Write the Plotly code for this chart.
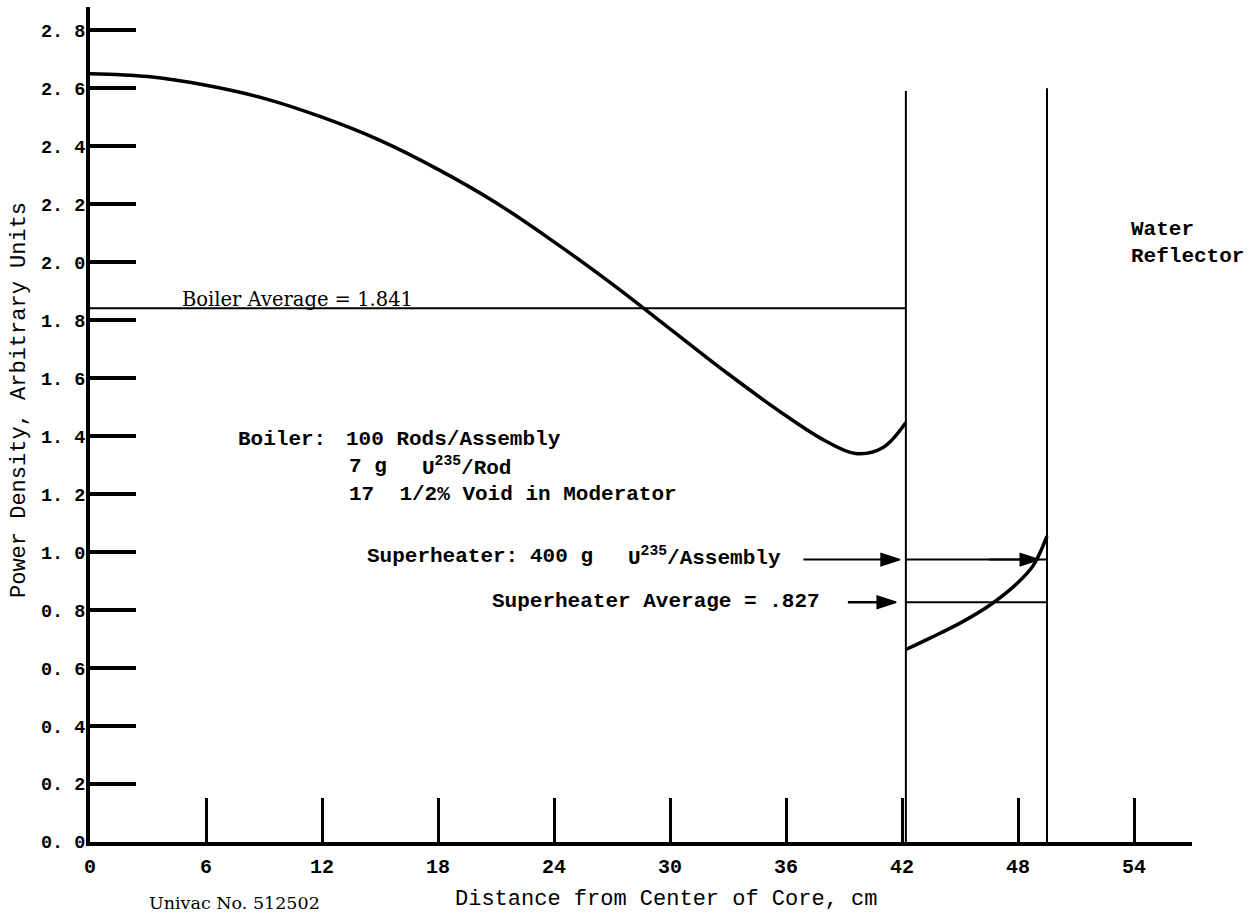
import plotly.graph_objects as go

# ---- data ----
boiler_x = [0, 3, 6, 9, 12, 15, 18, 21, 24, 27, 30, 33, 36, 38, 39.6, 41, 42.2]
boiler_y = [2.65, 2.64, 2.61, 2.565, 2.50, 2.42, 2.32, 2.205, 2.07, 1.925, 1.77, 1.615, 1.47,
            1.385, 1.34, 1.36, 1.447]

super_x = [42.2, 43.5, 45, 46.5, 48, 48.8, 49.5]
super_y = [0.664, 0.705, 0.755, 0.815, 0.895, 0.955, 1.055]

boundaries = [42.2, 49.5]          # boiler / superheater / reflector boundaries (cm)
boundary_top = [2.59, 2.60]
boiler_avg = 1.841
super_avg = 0.827
super_loading_level = 0.974

x_ticks = [0, 6, 12, 18, 24, 30, 36, 42, 48, 54]
y_ticks = [0.0, 0.2, 0.4, 0.6, 0.8, 1.0, 1.2, 1.4, 1.6, 1.8, 2.0, 2.2, 2.4, 2.6, 2.8]
y_tick_text = ["0. 0", "0. 2", "0. 4", "0. 6", "0. 8", "1. 0", "1. 2", "1. 4", "1. 6",
               "1. 8", "2. 0", "2. 2", "2. 4", "2. 6", "2. 8"]

SERIF = "DejaVu Serif"
MONO = "Liberation Mono"

fig = go.Figure()


def line(xs, ys, width=2, **kw):
    fig.add_trace(go.Scatter(x=xs, y=ys, mode="lines", line=dict(color="black", width=width, **kw),
                             showlegend=False, hoverinfo="skip"))


def arrow(xs, ys, width=2, size=20):
    fig.add_trace(go.Scatter(x=xs, y=ys, mode="lines+markers",
                             line=dict(color="black", width=width),
                             marker=dict(symbol="arrow", angleref="previous", size=[0, size],
                                         color="black", opacity=1,
                                         line=dict(width=1.5, color="black")),
                             showlegend=False, hoverinfo="skip"))


line(boiler_x, boiler_y, width=3.5, shape="spline", smoothing=1.0)
line(super_x, super_y, width=3.5, shape="spline", smoothing=1.0)

# vertical boundary lines
for bx, bt in zip(boundaries, boundary_top):
    line([bx, bx], [0, bt], width=2)

# average lines
line([0, boundaries[0]], [boiler_avg, boiler_avg], width=2)
line(boundaries, [super_avg, super_avg], width=2)
line(boundaries, [super_loading_level, super_loading_level], width=2)

# arrows
arrow([36.9, boundaries[0] - 0.3], [super_loading_level, super_loading_level])
arrow([46.5, boundaries[1] - 0.4], [super_loading_level, super_loading_level])
arrow([39.2, boundaries[0] - 0.5], [super_avg, super_avg], width=2.5)

ann = []
body = dict(family=MONO, size=21, color="black", weight="bold")


def text(x, y, s, font, xanchor="left", yanchor="middle", **kw):
    ann.append(dict(x=x, y=y, xref="x", yref="y", xanchor=xanchor, yanchor=yanchor,
                    text=s, showarrow=False, font=font, **kw))


text(4.65, boiler_avg, "Boiler Average = 1.841",
     dict(family=SERIF, size=19.5, color="black"), yanchor="bottom", yshift=-5)

text(7.55, 1.39, "Boiler:", body)
text(13.15, 1.39, "100 Rods/Assembly", body)
text(13.3, 1.295, "7 g", body)
text(17.05, 1.295, "U<sup>235</sup>/Rod", body)
text(13.3, 1.198, "17&nbsp;&nbsp;1/2% Void in Moderator", body)

text(14.2, 0.985, "Superheater:", body)
text(22.65, 0.985, "400 g", body)
text(27.7, 0.985, "U<sup>235</sup>/Assembly", body)

text(20.7, 0.83, "Superheater Average = .827", body)

ann.append(dict(x=53.75, y=2.065, xref="x", yref="y", xanchor="left", yanchor="middle",
                text="Water<br>Reflector", align="left", showarrow=False,
                font=dict(family=MONO, size=21, color="black", weight="bold")))

ann.append(dict(x=(19 - 90) / 1102, y=(842 - 400) / 835, xref="paper", yref="paper",
                xanchor="center", yanchor="middle",
                textangle=-90, text="Power Density, Arbitrary Units", showarrow=False,
                font=dict(family=MONO, size=22, color="black")))
ann.append(dict(x=(666 - 90) / 19.33, y=-0.069, xref="x", yref="paper", yanchor="middle",
                text="Distance from Center of Core, cm", showarrow=False,
                font=dict(family=MONO, size=22, color="black")))
ann.append(dict(x=(234 - 90) / 19.33, y=-0.073, xref="x", yref="paper", yanchor="middle",
                text="Univac No. 512502", showarrow=False,
                font=dict(family=SERIF, size=17.5, color="black")))

fig.update_layout(
    width=1253, height=918,
    margin=dict(l=90, r=61, t=7, b=76, pad=0),
    paper_bgcolor="white", plot_bgcolor="white",
    annotations=ann,
    xaxis=dict(range=[0, 57], showgrid=False, zeroline=False, showline=True,
               linecolor="black", linewidth=4, ticks="inside", ticklen=44, tickwidth=3,
               tickcolor="black", tickvals=x_ticks, ticktext=[str(v) for v in x_ticks],
               ticklabelstandoff=3,
               tickfont=dict(family=MONO, size=20, color="black", weight="bold")),
    yaxis=dict(range=[0, 2.88], showgrid=False, zeroline=False, showline=True,
               linecolor="black", linewidth=4, ticks="inside", ticklen=46, tickwidth=3.5,
               tickcolor="black", tickvals=y_ticks, ticktext=y_tick_text,
               ticklabelstandoff=-3,
               tickfont=dict(family=MONO, size=18.5, color="black", weight="bold")),
)

fig.write_html("out.html")
